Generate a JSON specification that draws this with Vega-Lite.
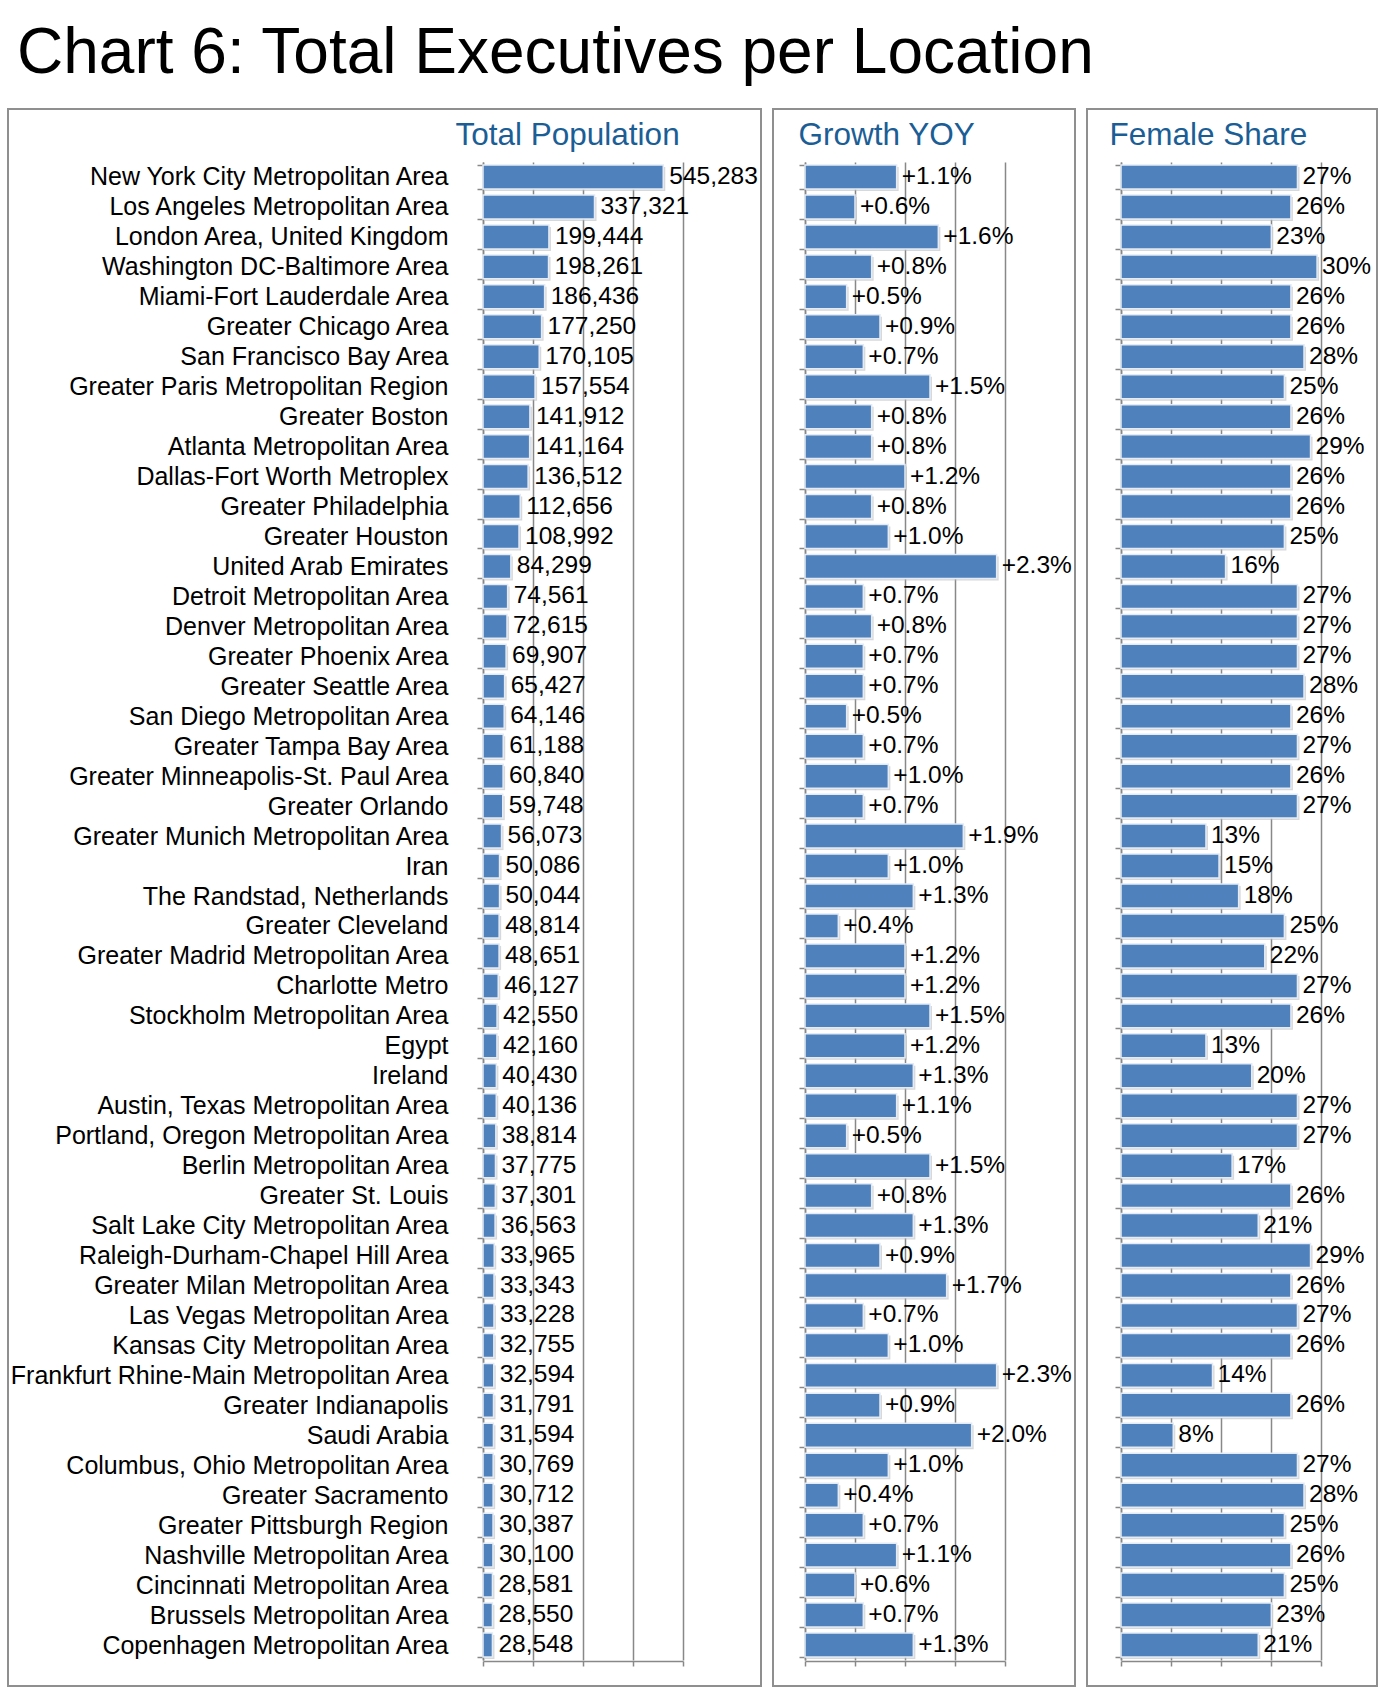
{
  "$schema": "https://vega.github.io/schema/vega-lite/v6.json",
  "padding": {"left": 7, "top": 21, "right": 5, "bottom": 5},
  "background": "white",
  "bounds": "flush",
  "title": {"text": "Chart 6: Total Executives per Location", "anchor": "start", "frame": "group", "dx": 9, "offset": -40.5, "baseline": "alphabetic", "fontSize": 64, "font": "Liberation Sans", "fontWeight": "normal", "color": "#000000"},
  "spacing": 12,
  "config": {
    "view": {"stroke": "#8f8f8f", "strokeWidth": 2},
    "title": {"font": "Liberation Sans", "fontWeight": "normal"},
    "axis": {"labelFont": "Liberation Sans", "titleFont": "Liberation Sans", "titleFontWeight": "normal"}
  },
  "data": {"values": [
    {"loc": "New York City Metropolitan Area", "pop": 545283, "growth": 0.011, "female": 0.27},
    {"loc": "Los Angeles Metropolitan Area", "pop": 337321, "growth": 0.006, "female": 0.26},
    {"loc": "London Area, United Kingdom", "pop": 199444, "growth": 0.016, "female": 0.23},
    {"loc": "Washington DC-Baltimore Area", "pop": 198261, "growth": 0.008, "female": 0.30},
    {"loc": "Miami-Fort Lauderdale Area", "pop": 186436, "growth": 0.005, "female": 0.26},
    {"loc": "Greater Chicago Area", "pop": 177250, "growth": 0.009, "female": 0.26},
    {"loc": "San Francisco Bay Area", "pop": 170105, "growth": 0.007, "female": 0.28},
    {"loc": "Greater Paris Metropolitan Region", "pop": 157554, "growth": 0.015, "female": 0.25},
    {"loc": "Greater Boston", "pop": 141912, "growth": 0.008, "female": 0.26},
    {"loc": "Atlanta Metropolitan Area", "pop": 141164, "growth": 0.008, "female": 0.29},
    {"loc": "Dallas-Fort Worth Metroplex", "pop": 136512, "growth": 0.012, "female": 0.26},
    {"loc": "Greater Philadelphia", "pop": 112656, "growth": 0.008, "female": 0.26},
    {"loc": "Greater Houston", "pop": 108992, "growth": 0.010, "female": 0.25},
    {"loc": "United Arab Emirates", "pop": 84299, "growth": 0.023, "female": 0.16},
    {"loc": "Detroit Metropolitan Area", "pop": 74561, "growth": 0.007, "female": 0.27},
    {"loc": "Denver Metropolitan Area", "pop": 72615, "growth": 0.008, "female": 0.27},
    {"loc": "Greater Phoenix Area", "pop": 69907, "growth": 0.007, "female": 0.27},
    {"loc": "Greater Seattle Area", "pop": 65427, "growth": 0.007, "female": 0.28},
    {"loc": "San Diego Metropolitan Area", "pop": 64146, "growth": 0.005, "female": 0.26},
    {"loc": "Greater Tampa Bay Area", "pop": 61188, "growth": 0.007, "female": 0.27},
    {"loc": "Greater Minneapolis-St. Paul Area", "pop": 60840, "growth": 0.010, "female": 0.26},
    {"loc": "Greater Orlando", "pop": 59748, "growth": 0.007, "female": 0.27},
    {"loc": "Greater Munich Metropolitan Area", "pop": 56073, "growth": 0.019, "female": 0.13},
    {"loc": "Iran", "pop": 50086, "growth": 0.010, "female": 0.15},
    {"loc": "The Randstad, Netherlands", "pop": 50044, "growth": 0.013, "female": 0.18},
    {"loc": "Greater Cleveland", "pop": 48814, "growth": 0.004, "female": 0.25},
    {"loc": "Greater Madrid Metropolitan Area", "pop": 48651, "growth": 0.012, "female": 0.22},
    {"loc": "Charlotte Metro", "pop": 46127, "growth": 0.012, "female": 0.27},
    {"loc": "Stockholm Metropolitan Area", "pop": 42550, "growth": 0.015, "female": 0.26},
    {"loc": "Egypt", "pop": 42160, "growth": 0.012, "female": 0.13},
    {"loc": "Ireland", "pop": 40430, "growth": 0.013, "female": 0.20},
    {"loc": "Austin, Texas Metropolitan Area", "pop": 40136, "growth": 0.011, "female": 0.27},
    {"loc": "Portland, Oregon Metropolitan Area", "pop": 38814, "growth": 0.005, "female": 0.27},
    {"loc": "Berlin Metropolitan Area", "pop": 37775, "growth": 0.015, "female": 0.17},
    {"loc": "Greater St. Louis", "pop": 37301, "growth": 0.008, "female": 0.26},
    {"loc": "Salt Lake City Metropolitan Area", "pop": 36563, "growth": 0.013, "female": 0.21},
    {"loc": "Raleigh-Durham-Chapel Hill Area", "pop": 33965, "growth": 0.009, "female": 0.29},
    {"loc": "Greater Milan Metropolitan Area", "pop": 33343, "growth": 0.017, "female": 0.26},
    {"loc": "Las Vegas Metropolitan Area", "pop": 33228, "growth": 0.007, "female": 0.27},
    {"loc": "Kansas City Metropolitan Area", "pop": 32755, "growth": 0.010, "female": 0.26},
    {"loc": "Frankfurt Rhine-Main Metropolitan Area", "pop": 32594, "growth": 0.023, "female": 0.14},
    {"loc": "Greater Indianapolis", "pop": 31791, "growth": 0.009, "female": 0.26},
    {"loc": "Saudi Arabia", "pop": 31594, "growth": 0.020, "female": 0.08},
    {"loc": "Columbus, Ohio Metropolitan Area", "pop": 30769, "growth": 0.010, "female": 0.27},
    {"loc": "Greater Sacramento", "pop": 30712, "growth": 0.004, "female": 0.28},
    {"loc": "Greater Pittsburgh Region", "pop": 30387, "growth": 0.007, "female": 0.25},
    {"loc": "Nashville Metropolitan Area", "pop": 30100, "growth": 0.011, "female": 0.26},
    {"loc": "Cincinnati Metropolitan Area", "pop": 28581, "growth": 0.006, "female": 0.25},
    {"loc": "Brussels Metropolitan Area", "pop": 28550, "growth": 0.007, "female": 0.23},
    {"loc": "Copenhagen Metropolitan Area", "pop": 28548, "growth": 0.013, "female": 0.21}
  ]},
  "hconcat": [
    {
      "width": 753,
      "height": 1577,
      "encoding": {
        "y": {"field": "loc", "type": "nominal", "sort": null,
          "scale": {"range": [53, 1551], "paddingInner": 0.2, "paddingOuter": 0.1},
          "axis": {"title": null, "orient": "left", "offset": -475, "tickBand": "extent", "tickSize": 6, "tickWidth": 1.5, "tickColor": "#888888", "domainColor": "#888888", "domainWidth": 1.5, "labelPadding": 29, "labelFontSize": 25, "labelColor": "#000000", "labelLimit": 0, "grid": false}}
      },
      "resolve": {"axis": {"x": "independent"}},
      "layer": [
        {
          "mark": {"type": "bar", "color": "#b8b8b8", "opacity": 0.55, "xOffset": 2, "yOffset": 2},
          "encoding": {
            "x": {"field": "pop", "type": "quantitative",
              "scale": {"domain": [0, 605000], "range": [475, 675], "nice": false, "zero": true},
              "axis": {"orient": "top", "values": [0, 151250, 302500, 453750, 605000], "grid": true, "gridColor": "#888888", "gridWidth": 1.5, "domain": false, "ticks": false, "labels": false,
                "title": "Total Population", "titleX": 447, "titleY": 35, "titleAlign": "left", "titleAnchor": "start", "titleBaseline": "alphabetic", "titleFontSize": 31.5, "titleColor": "#1b5e96", "titlePadding": 0}}
          }
        },
        {
          "mark": {"type": "bar", "color": "#4f81bd", "stroke": "#e4ebf5", "strokeWidth": 1.5},
          "encoding": {
            "x": {"field": "pop", "type": "quantitative", "axis": null}
          }
        },
        {
          "mark": {"type": "text", "align": "left", "baseline": "middle", "dx": 6, "fontSize": 24.5, "font": "Liberation Sans", "color": "#000000"},
          "encoding": {
            "x": {"field": "pop", "type": "quantitative",
              "axis": {"orient": "bottom", "offset": -25, "values": [0, 151250, 302500, 453750, 605000], "grid": false, "labels": false, "title": null, "tickSize": 5, "tickWidth": 1.5, "tickColor": "#888888", "domainColor": "#888888", "domainWidth": 1.5}},
            "text": {"field": "pop", "type": "quantitative", "format": ","}
          }
        }
      ]
    },
    {
      "width": 302,
      "height": 1577,
      "encoding": {
        "y": {"field": "loc", "type": "nominal", "sort": null,
          "scale": {"range": [53, 1551], "paddingInner": 0.2, "paddingOuter": 0.1},
          "axis": {"title": null, "orient": "left", "offset": -32, "tickBand": "extent", "tickSize": 6, "tickWidth": 1.5, "tickColor": "#888888", "domainColor": "#888888", "domainWidth": 1.5, "labels": false, "grid": false}}
      },
      "resolve": {"axis": {"x": "independent"}},
      "layer": [
        {
          "mark": {"type": "bar", "color": "#b8b8b8", "opacity": 0.55, "xOffset": 2, "yOffset": 2},
          "encoding": {
            "x": {"field": "growth", "type": "quantitative",
              "scale": {"domain": [0, 0.024], "range": [32, 232], "nice": false, "zero": true},
              "axis": {"orient": "top", "values": [0, 0.006, 0.012, 0.018, 0.024], "grid": true, "gridColor": "#888888", "gridWidth": 1.5, "domain": false, "ticks": false, "labels": false,
                "title": "Growth YOY", "titleX": 25, "titleY": 35, "titleAlign": "left", "titleAnchor": "start", "titleBaseline": "alphabetic", "titleFontSize": 31.5, "titleColor": "#1b5e96", "titlePadding": 0}}
          }
        },
        {
          "mark": {"type": "bar", "color": "#4f81bd", "stroke": "#e4ebf5", "strokeWidth": 1.5},
          "encoding": {
            "x": {"field": "growth", "type": "quantitative", "axis": null}
          }
        },
        {
          "mark": {"type": "text", "align": "left", "baseline": "middle", "dx": 5, "fontSize": 24.5, "font": "Liberation Sans", "color": "#000000"},
          "encoding": {
            "x": {"field": "growth", "type": "quantitative",
              "axis": {"orient": "bottom", "offset": -25, "values": [0, 0.006, 0.012, 0.018, 0.024], "grid": false, "labels": false, "title": null, "tickSize": 5, "tickWidth": 1.5, "tickColor": "#888888", "domainColor": "#888888", "domainWidth": 1.5}},
            "text": {"field": "growth", "type": "quantitative", "format": "+.1%"}
          }
        }
      ]
    },
    {
      "width": 290,
      "height": 1577,
      "encoding": {
        "y": {"field": "loc", "type": "nominal", "sort": null,
          "scale": {"range": [53, 1551], "paddingInner": 0.2, "paddingOuter": 0.1},
          "axis": {"title": null, "orient": "left", "offset": -34, "tickBand": "extent", "tickSize": 6, "tickWidth": 1.5, "tickColor": "#888888", "domainColor": "#888888", "domainWidth": 1.5, "labels": false, "grid": false}}
      },
      "resolve": {"axis": {"x": "independent"}},
      "layer": [
        {
          "mark": {"type": "bar", "color": "#b8b8b8", "opacity": 0.55, "xOffset": 2, "yOffset": 2},
          "encoding": {
            "x": {"field": "female", "type": "quantitative",
              "scale": {"domain": [0, 0.306], "range": [34, 234], "nice": false, "zero": true},
              "axis": {"orient": "top", "values": [0, 0.0765, 0.153, 0.2295, 0.306], "grid": true, "gridColor": "#888888", "gridWidth": 1.5, "domain": false, "ticks": false, "labels": false,
                "title": "Female Share", "titleX": 22, "titleY": 35, "titleAlign": "left", "titleAnchor": "start", "titleBaseline": "alphabetic", "titleFontSize": 31.5, "titleColor": "#1b5e96", "titlePadding": 0}}
          }
        },
        {
          "mark": {"type": "bar", "color": "#4f81bd", "stroke": "#e4ebf5", "strokeWidth": 1.5},
          "encoding": {
            "x": {"field": "female", "type": "quantitative", "axis": null}
          }
        },
        {
          "mark": {"type": "text", "align": "left", "baseline": "middle", "dx": 5, "fontSize": 24.5, "font": "Liberation Sans", "color": "#000000"},
          "encoding": {
            "x": {"field": "female", "type": "quantitative",
              "axis": {"orient": "bottom", "offset": -25, "values": [0, 0.0765, 0.153, 0.2295, 0.306], "grid": false, "labels": false, "title": null, "tickSize": 5, "tickWidth": 1.5, "tickColor": "#888888", "domainColor": "#888888", "domainWidth": 1.5}},
            "text": {"field": "female", "type": "quantitative", "format": ".0%"}
          }
        }
      ]
    }
  ]
}
